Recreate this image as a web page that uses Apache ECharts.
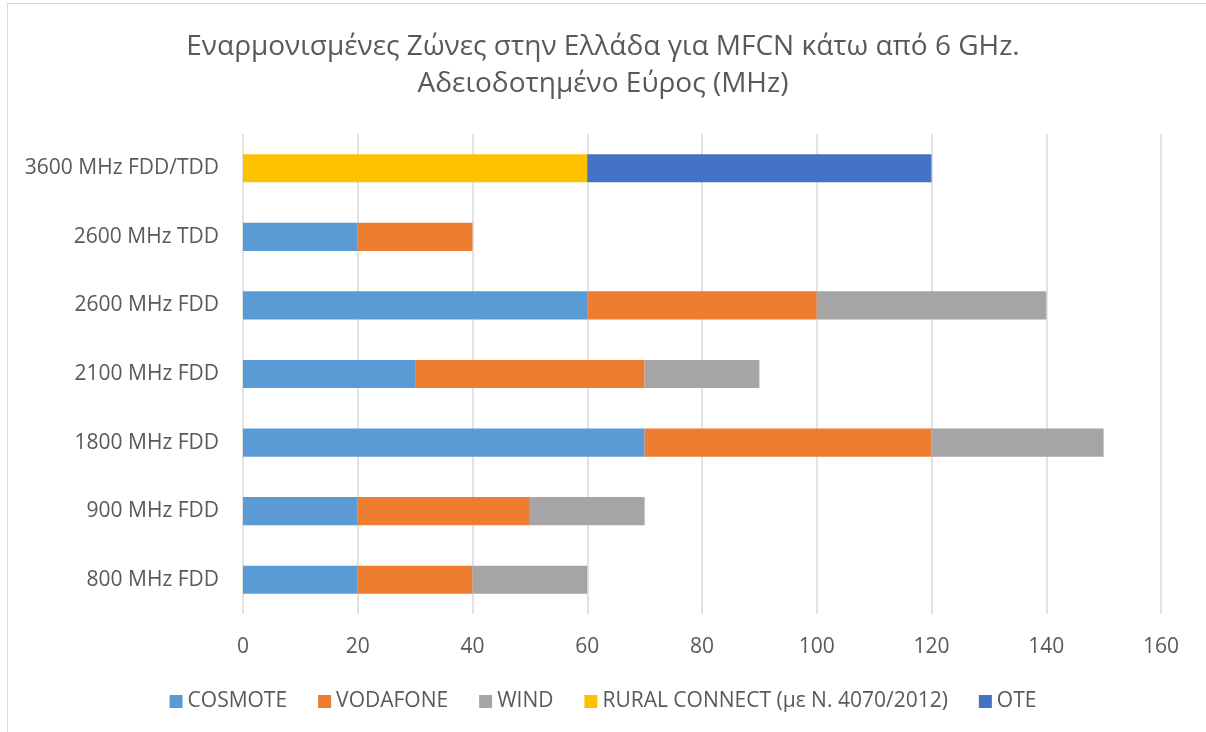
<!DOCTYPE html>
<html>
<head>
<meta charset="utf-8">
<script src="https://cdn.jsdelivr.net/npm/echarts@6/dist/echarts.min.js"></script>
<style>
html,body{margin:0;padding:0;background:#fff;}
#frame{position:absolute;left:7px;top:3px;width:1220px;height:760px;border:1.5px solid #D9D9D9;box-sizing:border-box;}
#chart{position:absolute;left:0;top:0;width:1206px;height:732px;}
</style>
</head>
<body>
<div id="frame"></div>
<div id="chart"></div>
<script>
const categories = ['800 MHz FDD','900 MHz FDD','1800 MHz FDD','2100 MHz FDD','2600 MHz FDD','2600 MHz TDD','3600 MHz FDD/TDD'];
const seriesNames = ['COSMOTE','VODAFONE','WIND','RURAL CONNECT (με Ν. 4070/2012)','OTE'];
const cosmote  = [20, 20, 70, 30, 60, 20, null];
const vodafone = [20, 30, 50, 40, 40, 20, null];
const wind     = [20, 20, 30, 20, 40, null, null];
const rural    = [null, null, null, null, null, null, 60];
const ote      = [null, null, null, null, null, null, 60];
const xTicks = {min: 0, max: 160, interval: 20};
const colors = ['#5B9BD5','#ED7D31','#A5A5A5','#FFC000','#4472C4'];

const FONT = 'Open Sans';
const TXT = '#595959';
const dataSets = [cosmote, vodafone, wind, rural, ote];
const chart = echarts.init(document.getElementById('chart'));
chart.setOption({
  animation: false,
  color: colors,
  title: {
    text: 'Εναρμονισμένες Ζώνες στην Ελλάδα για MFCN κάτω από 6 GHz.\nΑδειοδοτημένο Εύρος (MHz)',
    left: 'center', top: 24,
    textStyle: {fontFamily: FONT, fontSize: 28, fontWeight: 'normal', color: TXT, lineHeight: 37}
  },
  legend: {
    top: 686, left: 'center',
    itemWidth: 13, itemHeight: 13, itemGap: 31,
    icon: 'rect',
    textStyle: {fontFamily: FONT, fontSize: 21, color: TXT},
    data: seriesNames
  },
  grid: {left: 243, right: 45, top: 134, bottom: 118, containLabel: false},
  xAxis: {
    type: 'value', min: xTicks.min, max: xTicks.max, interval: xTicks.interval,
    axisLine: {show: false}, axisTick: {show: false},
    splitLine: {lineStyle: {color: '#D9D9D9', width: 1.5}},
    axisLabel: {fontFamily: FONT, fontSize: 21, color: TXT, margin: 23}
  },
  yAxis: {
    type: 'category', data: categories,
    axisLine: {show: false}, axisTick: {show: false},
    axisLabel: {fontFamily: FONT, fontSize: 21, color: TXT, margin: 24}
  },
  series: seriesNames.map((n, i) => ({
    name: n, type: 'bar', stack: 'total', barWidth: '41%',
    data: dataSets[i]
  }))
});
</script>
</body>
</html>
